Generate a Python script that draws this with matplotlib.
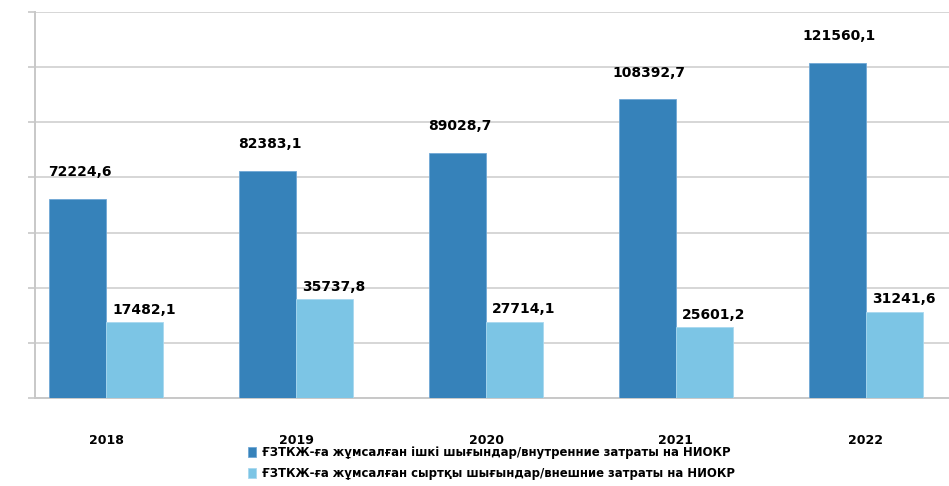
import numpy as np
import matplotlib.pyplot as plt

years = ['2018', '2019', '2020', '2021', '2022']
internal = [72224.6, 82383.1, 89028.7, 108392.7, 121560.1]
external = [27482.1, 35737.8, 27714.1, 25601.2, 31241.6]
internal_labels = ['72224,6', '82383,1', '89028,7', '108392,7', '121560,1']
external_labels = ['17482,1', '35737,8', '27714,1', '25601,2', '31241,6']
series_names = ['ҒЗТКЖ-ға жұмсалған ішкі шығындар/внутренние затраты на НИОКР',
                'ҒЗТКЖ-ға жұмсалған сыртқы шығындар/внешние затраты на НИОКР']

dark = '#3682ba'
light = '#7cc5e5'

fig = plt.figure(figsize=(9.49, 4.86), dpi=100)
ax = fig.add_axes([35 / 949, 88 / 486, 914 / 949, 386 / 486])

x = np.arange(len(years))
w = 0.3
b1 = ax.bar(x - w / 2, internal, w, color=dark, edgecolor='#6fa8d6', linewidth=0.6,
            label=series_names[0], zorder=3)
b2 = ax.bar(x + w / 2, external, w, color=light, edgecolor='#a8d8ef', linewidth=0.6,
            label=series_names[1], zorder=3)

for rect, txt in zip(b1, internal_labels):
    ax.annotate(txt, (rect.get_x() + rect.get_width() / 2 + 0.01, rect.get_height()),
                xytext=(0, 14), textcoords='offset points', ha='center', va='bottom',
                fontsize=10, fontweight='bold', color='black')
for rect, txt in zip(b2, external_labels):
    ax.annotate(txt, (rect.get_x() + rect.get_width() / 2 + 0.05, rect.get_height()),
                xytext=(0, 4), textcoords='offset points', ha='center', va='bottom',
                fontsize=10, fontweight='bold', color='black')

ax.set_xlim(-0.374, 4.437)
ax.set_ylim(0, 140000)
ax.set_yticks(np.arange(0, 140001, 20000))
ax.set_yticklabels([])
ax.grid(axis='y', color='#d6d6d6', linewidth=1.4, zorder=0)
ax.set_xticks(x)
ax.set_xticklabels(years, fontsize=9, fontweight='bold')
ax.tick_params(axis='x', length=0, pad=26)
ax.tick_params(axis='y', length=5, color='#c8c8c8', width=1.2)
for s in ['top', 'right']:
    ax.spines[s].set_visible(False)
for s in ['left', 'bottom']:
    ax.spines[s].set_color('#c8c8c8')
    ax.spines[s].set_linewidth(1.4)

fig.legend(handles=[b1, b2], labels=series_names, loc='upper left',
           bbox_to_anchor=(242 / 949, 1 - 440 / 486), frameon=False,
           prop={'size': 8.4, 'weight': 'bold'}, handlelength=0.7, handleheight=0.9,
           handletextpad=0.5, labelspacing=0.7, borderpad=0)

fig.savefig('out.png', dpi=100)
